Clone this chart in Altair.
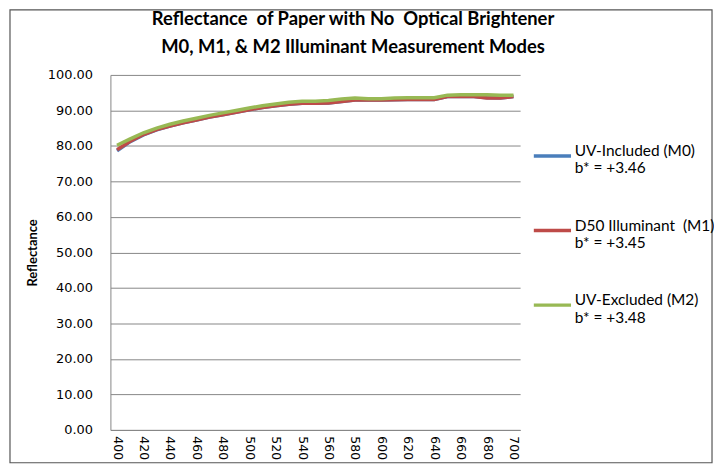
import altair as alt
import pandas as pd

wavelengths = list(range(400, 701, 10))
m0_uv_included = [78.6, 81.2, 83.1, 84.5, 85.6, 86.5, 87.3, 88.1, 88.8, 89.5, 90.2,
                  90.8, 91.3, 91.7, 92.0, 92.0, 92.1, 92.5, 92.9, 92.9, 92.9,
                  93.0, 93.1, 93.1, 93.1, 93.9, 94.0, 93.9, 93.6, 93.5, 93.9]
m1_d50 = [78.9, 81.3, 83.2, 84.6, 85.6, 86.5, 87.3, 88.1, 88.8, 89.5, 90.2,
          90.8, 91.3, 91.7, 92.0, 92.0, 92.1, 92.5, 92.9, 92.9, 92.9,
          93.0, 93.1, 93.1, 93.1, 93.9, 94.0, 93.9, 93.5, 93.5, 93.9]
m2_uv_excluded = [80.2, 82.0, 83.7, 85.0, 86.1, 87.0, 87.8, 88.6, 89.3, 90.0, 90.7,
                  91.3, 91.8, 92.3, 92.6, 92.6, 92.8, 93.2, 93.5, 93.3, 93.3,
                  93.5, 93.6, 93.6, 93.6, 94.3, 94.4, 94.4, 94.4, 94.3, 94.3]
series_names = ["UV-Included (M0)", "D50 Illuminant\u00a0 (M1)", "UV-Excluded (M2)"]
series_bstar = ["b* = +3.46", "b* = +3.45", "b* = +3.48"]
series_colors = ["#4A7EBB", "#BE4B48", "#98B954"]
x_ticks = list(range(400, 701, 20))
y_ticks = list(range(0, 101, 10))

rows = []
for name, vals in zip(series_names, [m0_uv_included, m1_d50, m2_uv_excluded]):
    for w, v in zip(wavelengths, vals):
        rows.append({"Wavelength": w, "Reflectance": v, "Series": name})
df = pd.DataFrame(rows)

bmap = "{" + ", ".join(f"'{n}': '{b}'" for n, b in zip(series_names, series_bstar)) + "}"

lines = alt.Chart(df).mark_line(strokeWidth=3.5).encode(
    x=alt.X("Wavelength:Q",
            scale=alt.Scale(domain=[395, 705], nice=False, zero=False),
            axis=alt.Axis(values=x_ticks, labelAngle=90, title=None, grid=False,
                          ticks=False, domainColor="#868686", labelFont="DejaVu Sans",
                          labelFontSize=12.5, labelColor="#000000", labelPadding=6,
                          labelAlign="left", labelBaseline="middle", labelOverlap=False)),
    y=alt.Y("Reflectance:Q",
            scale=alt.Scale(domain=[0, 100], nice=False),
            axis=alt.Axis(values=y_ticks, format=".2f", title="Reflectance",
                          titleFont="Lato", titleFontSize=13, titleFontWeight="bold",
                          titlePadding=8, titleColor="#000000",
                          grid=True, gridColor="#868686", gridWidth=1,
                          ticks=False, domainColor="#868686", labelFont="DejaVu Sans",
                          labelFontSize=13, labelColor="#000000", labelPadding=18)),
    color=alt.Color("Series:N",
                    scale=alt.Scale(domain=series_names, range=series_colors),
                    sort=series_names,
                    legend=alt.Legend(title=None, orient="none", legendX=424, legendY=61,
                                      symbolType="stroke", symbolStrokeWidth=3.5,
                                      symbolSize=1400, labelFont="Lato", labelFontSize=15.5,
                                      labelColor="#000000", rowPadding=33,
                                      labelOffset=2, labelBaseline="alphabetic",
                                      labelLimit=300,
                                      labelExpr="[datum.label, " + bmap + "[datum.label]]")),
    order=alt.Order("series_order:Q"),
).transform_calculate(
    series_order=f"indexof({series_names}, datum.Series)"
)

frame = alt.Chart(pd.DataFrame({"k": [0]})).mark_rect(
    fill=None, stroke="#555555", strokeWidth=1.2
).encode(x=alt.value(-101), x2=alt.value(605), y=alt.value(-65.4), y2=alt.value(390))

chart = alt.layer(lines, frame).properties(
    width=412, height=357,
    autosize=alt.AutoSizeParams(type="none"),
    padding={"left": 103, "top": 66, "right": 195, "bottom": 36},
    title=alt.Title(["Reflectance\u00a0 of Paper with No\u00a0 Optical Brightener",
                     "M0, M1, & M2 Illuminant Measurement Modes"],
                    font="Lato", fontSize=18.5, fontWeight="bold", color="#000000",
                    anchor="middle", dx=38, offset=-47, lineHeight=28),
).configure_view(stroke=None)

chart.save("out.html", embed_options={"renderer": "svg", "actions": False})
